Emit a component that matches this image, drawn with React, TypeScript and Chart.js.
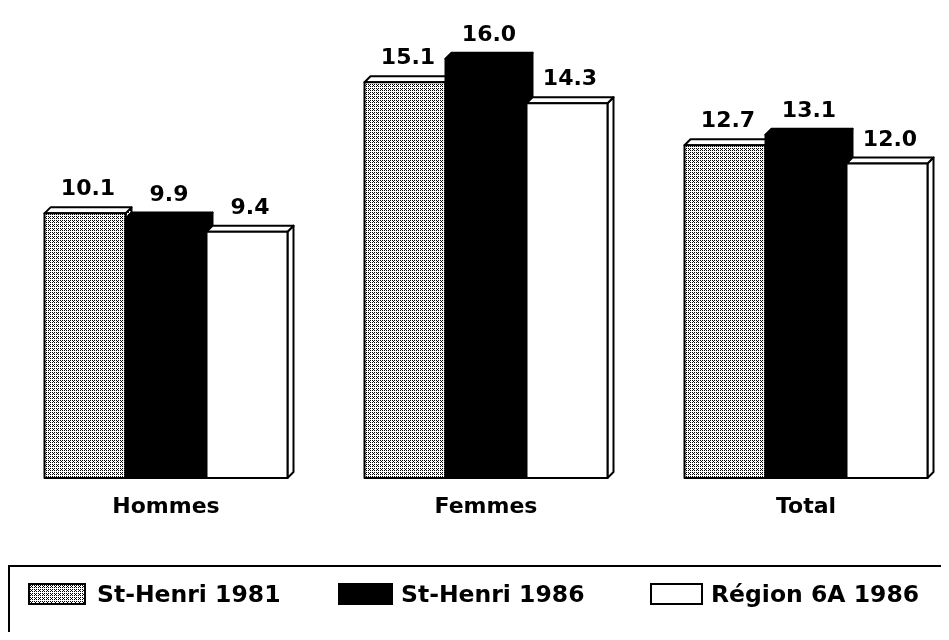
import React, { useEffect, useMemo, useRef } from 'react';
import { Chart, registerables } from 'chart.js';

Chart.register(...registerables);

const categories = ['Hommes', 'Femmes', 'Total'];
const seriesNames = ['St-Henri 1981', 'St-Henri 1986', 'Région 6A 1986'];
const stHenri1981 = [10.1, 15.1, 12.7];
const stHenri1986 = [9.9, 16.0, 13.1];
const region6A1986 = [9.4, 14.3, 12.0];

const FONT = '"DejaVu Sans", "Liberation Sans", sans-serif';
const DX = 6;
const DY = 6;

function makePatternCanvas(): HTMLCanvasElement {
  const c = document.createElement('canvas');
  c.width = 4;
  c.height = 4;
  const g = c.getContext('2d');
  if (g) {
    g.fillStyle = '#ffffff';
    g.fillRect(0, 0, 4, 4);
    g.fillStyle = '#000000';
    const dots = [[0, 0], [2, 2], [2, 0], [0, 2], [1, 1]];
    dots.forEach(([x, y]) => g.fillRect(x, y, 1, 1));
  }
  return c;
}

export default function App() {
  const ref = useRef<HTMLCanvasElement | null>(null);
  const patternUrl = useMemo(() => makePatternCanvas().toDataURL(), []);

  useEffect(() => {
    if (!ref.current) return;
    const pc = makePatternCanvas();
    const pattern = ref.current.getContext('2d')!.createPattern(pc, 'repeat') || '#aaa';
    const fronts = [pattern, '#000000', '#ffffff'];
    const tops = ['#ffffff', '#000000', '#ffffff'];
    const sides = [pattern, '#000000', '#ffffff'];

    const bars3d = {
      id: 'bars3d',
      afterDatasetsDraw(chart: any) {
        const ctx = chart.ctx;
        ctx.save();
        ctx.lineJoin = 'round';
        ctx.strokeStyle = '#000';
        ctx.lineWidth = 2;
        const metas = chart.data.datasets.map((_: any, i: number) => chart.getDatasetMeta(i));
        const labels: { x: number; y: number; t: string }[] = [];
        for (let j = 0; j < categories.length; j++) {
          for (let d = 0; d < metas.length; d++) {
            const el = metas[d].data[j];
            if (!el) continue;
            const p = el.getProps(['x', 'y', 'base', 'width'], true);
            const l = p.x - p.width / 2;
            const r = p.x + p.width / 2;
            const y = p.y;
            const b = p.base;
            ctx.beginPath();
            ctx.moveTo(r, y);
            ctx.lineTo(r + DX, y - DY);
            ctx.lineTo(r + DX, b - DY);
            ctx.lineTo(r, b);
            ctx.closePath();
            ctx.fillStyle = sides[d];
            ctx.fill();
            ctx.stroke();
            ctx.beginPath();
            ctx.moveTo(l, y);
            ctx.lineTo(l + DX, y - DY);
            ctx.lineTo(r + DX, y - DY);
            ctx.lineTo(r, y);
            ctx.closePath();
            ctx.fillStyle = tops[d];
            ctx.fill();
            ctx.stroke();
            ctx.fillStyle = fronts[d];
            ctx.fillRect(l, y, r - l, b - y);
            ctx.strokeRect(l, y, r - l, b - y);
            const v = chart.data.datasets[d].data[j].y as number;
            labels.push({ x: p.x + DX / 2, y: y - DY - 12, t: v.toFixed(1) });
          }
        }
        ctx.fillStyle = '#000';
        ctx.font = 'bold 22px ' + FONT;
        ctx.textAlign = 'center';
        ctx.textBaseline = 'alphabetic';
        labels.forEach((lb) => ctx.fillText(lb.t, lb.x, lb.y));
        ctx.restore();
      },
    };

    const toPoints = (arr: number[]) => arr.map((v, i) => ({ x: i, y: v }));

    const chart = new Chart(ref.current, {
      type: 'bar',
      data: {
        datasets: [
          { label: seriesNames[0], data: toPoints(stHenri1981), backgroundColor: pattern as any, borderColor: '#000', borderWidth: 2 },
          { label: seriesNames[1], data: toPoints(stHenri1986), backgroundColor: '#000', borderColor: '#000', borderWidth: 2 },
          { label: seriesNames[2], data: toPoints(region6A1986), backgroundColor: '#fff', borderColor: '#000', borderWidth: 2 },
        ],
      },
      options: {
        animation: false,
        responsive: false,
        devicePixelRatio: 1,
        layout: { padding: { top: 10, left: 0, right: 0, bottom: 0 } },
        datasets: { bar: { barThickness: 81 } },
        scales: {
          x: {
            type: 'linear',
            offset: false,
            min: -0.51875,
            max: 2.446875,
            grid: { display: false },
            border: { display: false },
            afterBuildTicks: (scale: any) => {
              scale.ticks = categories.map((_, i) => ({ value: i }));
            },
            afterFit: (scale: any) => {
              scale.height = 162;
            },
            ticks: {
              autoSkip: false,
              maxRotation: 0,
              padding: 8,
              color: '#000',
              font: { family: FONT, size: 22, weight: 'bold' },
              callback: (v: any) => categories[v as number] ?? '',
            },
          },
          y: { display: false, min: 0, max: 17.86 },
        },
        plugins: {
          tooltip: { enabled: false },
          legend: { display: false },
        },
      } as any,
      plugins: [bars3d],
    });
    return () => chart.destroy();
  }, []);

  const swatchBase: React.CSSProperties = {
    position: 'absolute',
    top: 583,
    height: 22,
    boxSizing: 'border-box',
    border: '2px solid #000',
  };
  const textBase: React.CSSProperties = {
    position: 'absolute',
    top: 580,
    lineHeight: '28px',
    fontFamily: FONT,
    fontWeight: 'bold',
    fontSize: 23.5,
    color: '#000',
    whiteSpace: 'nowrap',
  };

  return (
    <div style={{ position: 'relative', margin: '-8px', width: 949, height: 640, overflow: 'hidden', background: '#fff' }}>
      <canvas ref={ref} width={949} height={640} style={{ display: 'block' }} />
      <div
        style={{
          position: 'absolute',
          left: 8,
          top: 565,
          width: 1000,
          height: 200,
          border: '2px solid #000',
          boxSizing: 'border-box',
        }}
      />
      <div style={{ ...swatchBase, left: 28, width: 58, backgroundImage: `url(${patternUrl})` }} />
      <div style={{ ...textBase, left: 97 }}>{seriesNames[0]}</div>
      <div style={{ ...swatchBase, left: 338, width: 55, background: '#000' }} />
      <div style={{ ...textBase, left: 401 }}>{seriesNames[1]}</div>
      <div style={{ ...swatchBase, left: 650, width: 53, background: '#fff' }} />
      <div style={{ ...textBase, left: 711 }}>{seriesNames[2]}</div>
    </div>
  );
}
